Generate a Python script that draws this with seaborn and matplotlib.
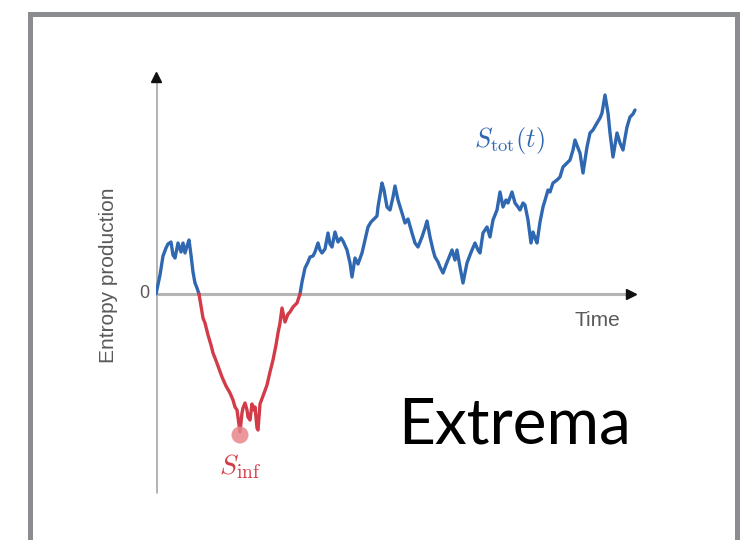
import numpy as np
import pandas as pd
import matplotlib
matplotlib.use("Agg")
import matplotlib.pyplot as plt
from matplotlib.patches import Rectangle
import seaborn as sns

# Entropy production trajectory (arbitrary units): first positive excursion
t_pos1 = [0, 4, 7, 10, 12, 15, 17, 19, 22, 25, 27, 29, 31, 33, 35, 37, 39, 41, 43]
s_pos1 = [0, 19, 38, 46, 50, 52, 39, 36, 51, 42, 51, 41, 48, 54, 39, 22, 11, 6, 0]

# Negative excursion (below zero)
t_neg = [43, 47, 49, 52, 55, 57, 59, 62, 66, 70, 74, 77, 79, 81, 84, 86, 87, 89,
         91, 92, 94, 96, 98, 99, 101, 102, 104, 107, 111, 114, 117, 120, 122, 124,
         126, 129, 132, 134, 137, 141, 144]
s_neg = [0, -24, -29, -41, -51, -59, -64, -72, -83, -92, -99, -106, -113, -116, -138,
         -119, -114, -109, -116, -123, -126, -110, -116, -113, -134, -136, -110, -102,
         -91, -78, -66, -51, -39, -29, -14, -28, -20, -18, -13, -9, 0]

# Second positive excursion
t_pos2 = [144, 146, 149, 152, 154, 157, 159, 162, 164, 166, 169, 172, 174, 176, 179,
          182, 185, 187, 191, 194, 196, 199, 202, 206, 209, 212, 215, 217, 221, 222,
          224, 226, 228, 231, 234, 237, 239, 242, 246, 249, 252, 256, 259, 262, 266,
          269, 271, 274, 277, 279, 282, 284, 287, 290, 292, 296, 299, 301, 304, 307,
          309, 311, 314, 316, 319, 322, 324, 327, 331, 334, 337, 341, 344, 347, 350,
          352, 356, 359, 362, 364, 367, 369, 372, 375, 377, 379, 381, 384, 387, 390,
          392, 394, 397, 401, 404, 407, 411, 414, 417, 419, 422, 424, 427, 429, 431,
          434, 437, 441, 444, 446, 449, 452, 454, 457, 459, 461, 464, 467, 469, 471,
          474, 477, 479]
s_pos2 = [0, 12, 26, 32, 37, 38, 42, 51, 44, 41, 45, 61, 50, 47, 62,
          52, 56, 53, 44, 31, 17, 36, 30, 41, 54, 67, 72, 74, 78, 87,
          99, 111, 104, 87, 84, 97, 108, 94, 81, 71, 75, 61, 51, 47, 57,
          66, 73, 57, 44, 37, 32, 27, 21, 29, 34, 44, 34, 44, 27, 11,
          21, 31, 39, 44, 51, 44, 41, 61, 67, 57, 74, 84, 102, 87, 94,
          91, 102, 91, 87, 84, 91, 89, 74, 51, 62, 56, 51, 72, 87, 97,
          104, 102, 111, 114, 117, 127, 131, 134, 144, 154, 146, 141, 121, 134, 147,
          161, 164, 171, 176, 181, 199, 181, 161, 137, 149, 161, 151, 144, 156, 167,
          177, 180, 184]

BLUE = "#2f67b1"
RED = "#d23b47"
AXIS_GREY = "#b4b4b4"
TEXT_GREY = "#5a5a5a"

segments = [("pos", 0, t_pos1, s_pos1), ("neg", 1, t_neg, s_neg), ("pos", 2, t_pos2, s_pos2)]
df = pd.concat(
    [pd.DataFrame({"t": t, "S": s, "sign": sign, "segment": seg}) for sign, seg, t, s in segments],
    ignore_index=True,
)

sns.set_theme(style="white")
plt.rcParams["font.family"] = ["Liberation Sans", "DejaVu Sans"]
plt.rcParams["mathtext.fontset"] = "cm"

fig = plt.figure(figsize=(7.41, 5.40), dpi=100)
fig.patch.set_facecolor("white")

# slide frame
fig.add_artist(Rectangle((30 / 741, -0.2), (737 - 30) / 741, 1.2 - 14 / 540,
                         transform=fig.transFigure, fill=False,
                         edgecolor="#8b8c90", linewidth=3.6, clip_on=False))

ax = fig.add_axes([156 / 741, 45 / 540, 484 / 741, 430 / 540])
ax.set_xlim(0, 484)
ax.set_ylim(-201, 229)
ax.axis("off")

# arrowed axes
ax.plot([0, 0], [-199, 214], color=AXIS_GREY, lw=2.2, solid_capstyle="butt", zorder=1)
ax.plot([0], [217], marker="^", color="#111111", ms=7, zorder=2, clip_on=False)
ax.plot([0, 474], [0, 0], color=AXIS_GREY, lw=2.2, solid_capstyle="butt", zorder=1)
ax.plot([475], [0], marker=">", color="#111111", ms=7, zorder=2, clip_on=False)

sns.lineplot(data=df, x="t", y="S", hue="sign", units="segment", estimator=None,
             sort=False, palette={"pos": BLUE, "neg": RED}, lw=2.4,
             legend=False, ax=ax, zorder=3)

# minimum of the trajectory
neg = df[df["sign"] == "neg"]
imin = neg["S"].idxmin()
sns.scatterplot(x=[neg.loc[imin, "t"]], y=[neg.loc[imin, "S"] - 3], s=150,
                color="#e8868c", alpha=0.85, edgecolor="none", ax=ax, zorder=4)

ax.text(-7, 0, "0", ha="right", va="center", fontsize=13, color=TEXT_GREY)
ax.text(441, -26, "Time", ha="center", va="center", fontsize=15, color=TEXT_GREY)
ax.text(-47, 19, "Entropy production", ha="center", va="center", rotation=90,
        fontsize=15, color=TEXT_GREY)
ax.text(353, 154, r"$S_{\rm tot}(t)$", ha="center", va="center", fontsize=19, color=BLUE)
ax.text(84, -173, r"$S_{\rm inf}$", ha="center", va="center", fontsize=20, color=RED)

fig.text(398 / 741, (540 - 443) / 540, "Extrema", ha="left", va="baseline",
         fontsize=46, color="black", family=["Lato", "DejaVu Sans"])

fig.savefig("out.png", dpi=100, facecolor="white")
